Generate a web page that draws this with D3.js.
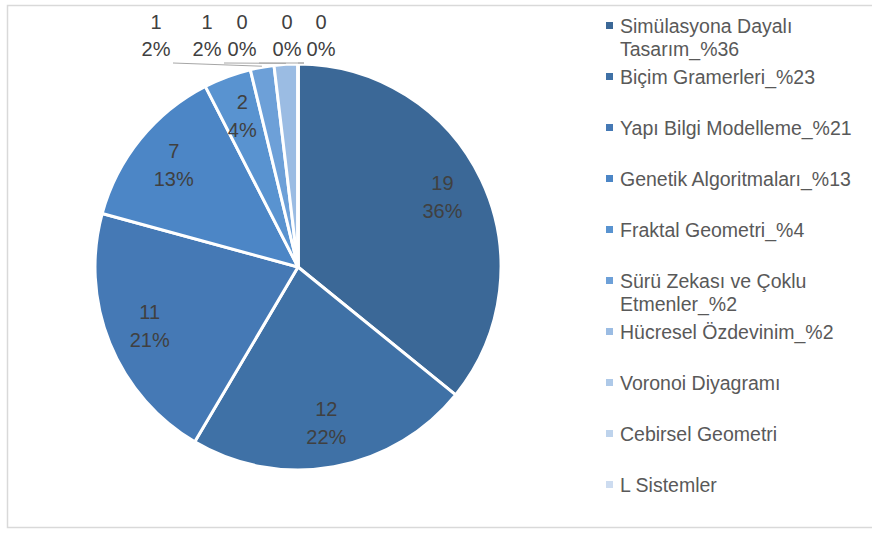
<!DOCTYPE html>
<html>
<head>
<meta charset="utf-8">
<script src="https://cdn.jsdelivr.net/npm/d3@7"></script>
<style>
  body { margin: 0; background: white; }
  text { font-family: "Liberation Sans", Arial, sans-serif; }
</style>
</head>
<body>
<div id="chart"></div>
<script>
// data
const categories = [
  'Simülasyona Dayalı Tasarım_%36',
  'Biçim Gramerleri_%23',
  'Yapı Bilgi Modelleme_%21',
  'Genetik Algoritmaları_%13',
  'Fraktal Geometri_%4',
  'Sürü Zekası ve Çoklu Etmenler_%2',
  'Hücresel Özdevinim_%2',
  'Voronoi Diyagramı',
  'Cebirsel Geometri',
  'L Sistemler'
]
const values = [19, 12, 11, 7, 2, 1, 1, 0, 0, 0]
const percentLabels = ['36%', '22%', '21%', '13%', '4%', '2%', '2%', '0%', '0%', '0%']
// legend line breaks as in the picture
const legendLines = [
  ['Simülasyona Dayalı', 'Tasarım_%36'],
  ['Biçim Gramerleri_%23'],
  ['Yapı Bilgi Modelleme_%21'],
  ['Genetik Algoritmaları_%13'],
  ['Fraktal Geometri_%4'],
  ['Sürü Zekası ve Çoklu', 'Etmenler_%2'],
  ['Hücresel Özdevinim_%2'],
  ['Voronoi Diyagramı'],
  ['Cebirsel Geometri'],
  ['L Sistemler']
]

const colors = ['#3b6897', '#3f71a6', '#4579b5', '#4c86c6', '#5993d0',
                '#6da0d8', '#9bbce3', '#aec9e8', '#bed3ec', '#cddcf0']

const width = 872, height = 533
const cx = 298, cy = 267, radius = 203

const svg = d3.select('#chart').append('svg')
  .attr('width', width)
  .attr('height', height)
  .style('background', 'white')

// chart area frame
svg.append('rect')
  .attr('x', 7.5).attr('y', 5.5)
  .attr('width', width + 10).attr('height', 522)
  .attr('fill', 'none')
  .attr('stroke', '#d9d9d9')
  .attr('stroke-width', 1.5)

const color = d3.scaleOrdinal().domain(categories).range(colors)

const pie = d3.pie().sort(null).value(d => d.value)
const arcs = pie(categories.map((c, i) => ({ name: c, value: values[i], pct: percentLabels[i] })))

const arc = d3.arc().innerRadius(0).outerRadius(radius)
const labelArc = d3.arc().innerRadius(160).outerRadius(160)

const g = svg.append('g').attr('transform', `translate(${cx},${cy})`)

g.selectAll('path')
  .data(arcs)
  .enter()
  .append('path')
  .attr('d', arc)
  .attr('fill', d => color(d.data.name))
  .attr('stroke', 'white')
  .attr('stroke-width', 3)
  .attr('stroke-linejoin', 'round')

// big slices get labels inside
const inside = arcs.filter(d => d.value >= 2)
const inLabels = g.selectAll('.in-label')
  .data(inside)
  .enter()
  .append('text')
  .attr('class', 'in-label')
  .attr('transform', d => `translate(${labelArc.centroid(d)})`)
  .attr('text-anchor', 'middle')
  .attr('fill', '#404040')
  .style('font-size', '20px')
inLabels.append('tspan').attr('x', 0).attr('dy', '-0.4em').text(d => d.value)
inLabels.append('tspan').attr('x', 0).attr('dy', '1.4em').text(d => d.data.pct)

// small slices: labels spread in a row above the pie, with leader lines
const outside = arcs.filter(d => d.value < 2)
const outOffsets = [-142, -91, -56, -11, 23]
const outY = -238
const edgeArc = d3.arc().innerRadius(radius + 1).outerRadius(radius + 1)

g.selectAll('.leader')
  .data(outside)
  .enter()
  .append('line')
  .attr('class', 'leader')
  .attr('x1', (d, i) => {
    const tx = edgeArc.centroid(d)[0]
    const lx = outOffsets[i]
    return lx < tx ? lx + 17 : lx - 17
  })
  .attr('y1', outY + 34)
  .attr('x2', d => edgeArc.centroid(d)[0])
  .attr('y2', d => edgeArc.centroid(d)[1])
  .attr('stroke', '#a6a6a6')
  .attr('stroke-width', 1)

const outLabels = g.selectAll('.out-label')
  .data(outside)
  .enter()
  .append('text')
  .attr('class', 'out-label')
  .attr('transform', (d, i) => `translate(${outOffsets[i]},${outY})`)
  .attr('text-anchor', 'middle')
  .attr('fill', '#404040')
  .style('font-size', '20px')
outLabels.append('tspan').attr('x', 0).attr('dy', 0).text(d => d.value)
outLabels.append('tspan').attr('x', 0).attr('dy', '1.35em').text(d => d.data.pct)

// legend
const legend = svg.append('g').attr('transform', 'translate(606,0)')
const item = legend.selectAll('.item')
  .data(categories)
  .enter()
  .append('g')
  .attr('class', 'item')
  .attr('transform', (d, i) => `translate(0,${26 + i * 51})`)

item.append('rect')
  .attr('x', 0).attr('y', -4)
  .attr('width', 7).attr('height', 7)
  .attr('fill', d => color(d))

item.each(function (d, i) {
  const t = d3.select(this).append('text')
    .attr('x', 14)
    .attr('y', 0)
    .attr('fill', '#595959')
    .style('font-size', '19.5px')
  legendLines[i].forEach((line, j) => {
    t.append('tspan').attr('x', 14).attr('dy', j === 0 ? '0.35em' : '1.2em').text(line)
  })
})
</script>
</body>
</html>
